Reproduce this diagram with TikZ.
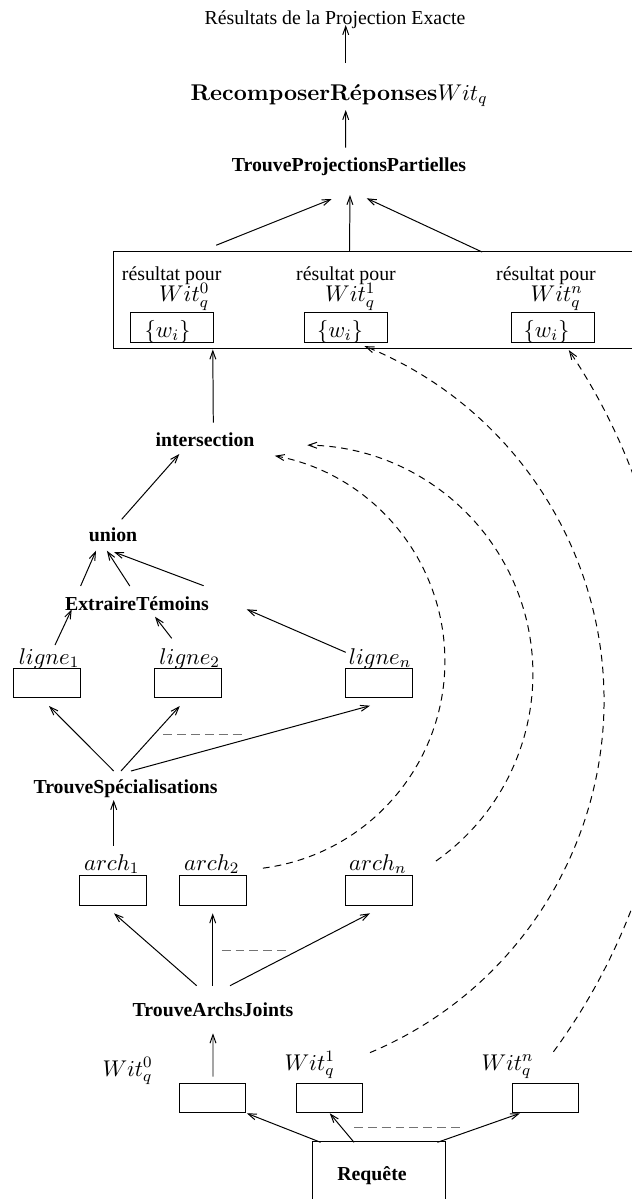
\RequirePackage{fix-cm}
\documentclass[tikz,border=0pt]{standalone}
\usepackage[no-math]{fontspec}
\setmainfont{Liberation Serif}
\usetikzlibrary{arrows.meta,calc}
\begin{document}
\begin{tikzpicture}[x=0.505pt,y=-0.505pt,
  lbl/.style={inner sep=0pt,anchor=base},
  bl/.style={lbl,font=\bfseries},
  mth/.style={inner sep=0pt,anchor=base,font=\fontsize{11.5}{13}\selectfont},
  box/.style={draw,line width=0.5pt,inner sep=0pt,minimum width=33.6pt,minimum height=14.9pt},
  rbox/.style={box,minimum width=42pt,minimum height=15.2pt},
  arr/.style={line width=0.5pt,-{Straight Barb[length=4.2pt,width=3pt]}},
  darr/.style={arr,dash pattern=on 3.4pt off 2.6pt},
  gdash/.style={line width=0.5pt,black!55,dash pattern=on 4.5pt off 2.5pt}]
\useasboundingbox (0,0) rectangle (632,1199);

% top part
\node[lbl] (title) at (335,24) {Résultats de la Projection Exacte};
\node[mth] (rec) at (339,100) {$\mathbf{RecomposerR\acute{e}ponses}Wit_q$};
\node[bl] (tpp) at (349,171) {TrouveProjectionsPartielles};
\node[draw,line width=0.5pt,inner sep=0pt,minimum width=266pt,minimum height=49.1pt] (big) at (376.65,300.35) {};

\node[lbl] (rp0) at (171.7,280.5) {résultat pour};
\node[lbl] (rp1) at (346,280.5) {résultat pour};
\node[lbl] (rpn) at (546,280.5) {résultat pour};
\node[mth] (wt0) at (184.2,301.5) {$Wit_q^0$};
\node[mth] (wt1) at (350.3,301.5) {$Wit_q^1$};
\node[mth] (wtn) at (556.7,301.5) {$Wit_q^n$};
\node[rbox] (rb0) at (171.7,327.3) {};
\node[rbox] (rb1) at (345.7,327.3) {};
\node[rbox] (rbn) at (552.7,327.3) {};
\node[mth] (wi0) at (167.5,337) {$\{w_i\}$};
\node[mth] (wi1) at (340,337) {$\{w_i\}$};
\node[mth] (win) at (546.5,337) {$\{w_i\}$};

% middle
\node[bl] (inter) at (205,446) {intersection};
\node[bl] (union) at (113,541.5) {union};
\node[bl] (ext) at (137,610) {ExtraireTémoins};
\node[mth] (l1) at (49,664.5) {$ligne_1$};
\node[mth] (l2) at (189.7,664.5) {$ligne_2$};
\node[mth] (ln) at (380,664.5) {$ligne_n$};
\node[box] (lb1) at (47,682.8) {};
\node[box] (lb2) at (187.8,682.8) {};
\node[box] (lbn) at (379,682.8) {};
\node[bl] (ts) at (125.6,793) {TrouveSpécialisations};
\node[mth] (a1) at (111.7,870.5) {$arch_1$};
\node[mth] (a2) at (211.7,870.5) {$arch_2$};
\node[mth] (an) at (377.8,870.5) {$arch_n$};
\node[box] (ab1) at (113.2,890.5) {};
\node[box] (ab2) at (213,890.5) {};
\node[box] (abn) at (379,890.5) {};
\node[bl] (taj) at (213,1016) {TrouveArchsJoints};

% bottom
\node[mth] (q0) at (127.6,1076) {$Wit_q^0$};
\node[mth] (q1) at (309.7,1070) {$Wit_q^1$};
\node[mth] (qn) at (507.5,1070) {$Wit_q^n$};
\node[box] (wb0) at (212.7,1098) {};
\node[box] (wb1) at (329.7,1098) {};
\node[box] (wbn) at (545.3,1098) {};
\node[draw,line width=0.5pt,inner sep=0pt,minimum width=67.2pt,minimum height=36.9pt] (reqbox) at (379,1178.5) {};
\node[bl] (req) at (372,1180) {Requête};

% solid connectors
\draw[arr] ($(rec.base)+(6.7,-37)$) -- ($(title.base)+(10.7,1)$);
\draw[arr] ($(tpp.base)+(-3.3,-23.3)$) -- ($(rec.base)+(6.7,10)$);
\draw[arr] ($(big.north west)+(103.4,-6)$) -- ($(tpp.base)+(-17.3,28)$);
\draw[arr] ($(big.north west)+(236.7,0)$) -- ($(tpp.base)+(1,24)$);
\draw[arr] ($(big.north west)+(369.4,0.8)$) -- ($(tpp.base)+(17.7,27.3)$);
\draw[arr] ($(inter.base)+(8.3,-23.3)$) -- ($(big.south west)+(100,0)$);
\draw[arr] ($(union.base)+(8.7,-22.2)$) -- ($(inter.base)+(-25.7,8)$);
\draw[arr] ($(ext.base)+(-56.4,-24)$) -- ($(union.base)+(-17,9.2)$);
\draw[arr] ($(ext.base)+(-7.2,-24)$) -- ($(union.base)+(-6.1,9.2)$);
\draw[arr] ($(ext.base)+(66.6,-24.3)$) -- ($(union.base)+(1,10.5)$);
\draw[arr] ($(l1.base)+(6,-19.5)$) -- ($(ext.base)+(-65.3,-0.7)$);
\draw[arr] ($(l2.base)+(-18,-26.2)$) -- ($(ext.base)+(18,6.7)$);
\draw[arr] ($(ln.base)+(-34.3,-12.2)$) -- ($(ext.base)+(109.7,-0.7)$);
\draw[arr] ($(ts.base)+(-11.9,-22)$) -- ($(lb1)+(2,23.2)$);
\draw[arr] ($(ts.base)+(-4.6,-22)$) -- ($(lb2)+(-8,23.2)$);
\draw[arr] ($(ts.base)+(5.4,-22)$) -- ($(lbn)+(-9,22.9)$);
\draw[gdash] ($(ts.base)+(37.7,-58.7)$) -- ($(ts.base)+(120.4,-58.7)$);
\draw[arr] ($(a1.base)+(2,-24.8)$) -- ($(ts.base)+(-11.9,7)$);
\draw[arr] ($(taj.base)+(-16.3,-30.3)$) -- ($(ab1)+(0.8,22.8)$);
\draw[arr] ($(taj.base)+(-0.3,-30.3)$) -- ($(ab2)+(-0.3,22.8)$);
\draw[arr] ($(taj.base)+(17,-30.3)$) -- ($(abn)+(-9,22.8)$);
\draw[gdash] ($(taj.base)+(8.7,-66)$) -- ($(taj.base)+(73.7,-66)$);
\draw[arr] ($(wb0)+(0.3,-21.3)$) -- ($(taj.base)+(0,17.3)$);
\draw[arr] ($(reqbox)+(-58.4,-36.2)$) -- ($(wb0)+(34.1,15.3)$);
\draw[arr] ($(reqbox)+(-25,-36.2)$) -- ($(wb1)+(0.1,15.3)$);
\draw[arr] ($(reqbox)+(58.5,-36.2)$) -- ($(wbn)+(-25.3,15.3)$);
\draw[gdash] ($(reqbox)+(-25,-51.2)$) -- ($(reqbox)+(82.7,-51.2)$);

% dashed arcs
\coordinate (oA) at (236,661);
\coordinate (oB) at (304,674);
\coordinate (oC) at (222,700.5);
\coordinate (oD) at (61,690);
\draw[darr] ([shift={(-82.6:105.5pt)}]oA) arc[start angle=-82.6,end angle=79.3,radius=105.5pt];
\draw[darr] ([shift={(-54.8:115.6pt)}]oB) arc[start angle=-54.8,end angle=89.2,radius=115.6pt];
\draw[darr] ([shift={(-67.2:192.9pt)}]oC) arc[start angle=-67.2,end angle=68.1,radius=192.9pt];
\draw[darr] ([shift={(-36.3:308.6pt)}]oD) arc[start angle=-36.3,end angle=33.8,radius=308.6pt];
\end{tikzpicture}
\end{document}
